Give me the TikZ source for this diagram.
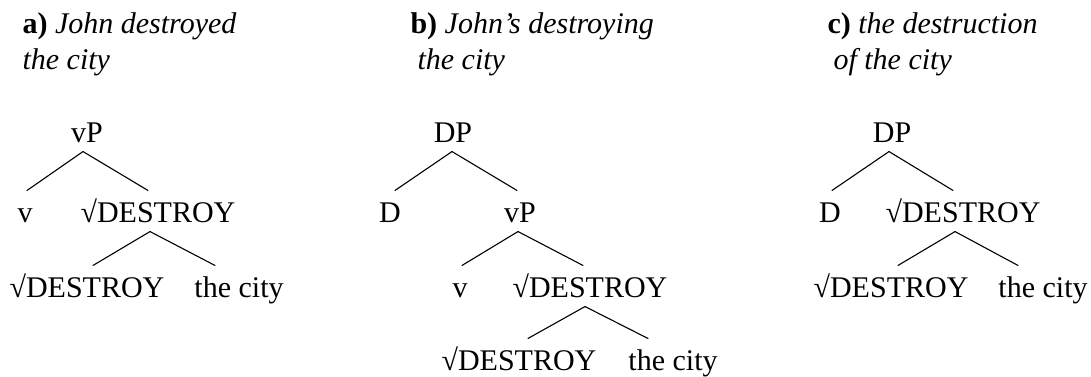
\documentclass[tikz,border=0pt]{standalone}
\usepackage{fontspec}
\setmainfont{Liberation Serif}
\tikzstyle{every node}=[font=\fontsize{30}{36}\selectfont]
\tikzstyle{every path}=[line width=1.1pt,line cap=round,line join=round]
\tikzstyle{cat}=[anchor=base,inner xsep=0pt,inner ysep=9pt,text height=22pt,text depth=0pt]
\tikzstyle{title}=[anchor=base west,inner sep=0pt]

\begin{document}
\begin{tikzpicture}[x=1pt,y=-1pt]
	\useasboundingbox (0,0) rectangle (1091,376);
	\newcommand\rootw{\char"221A DESTROY} %root label
% a) John destroyed the city
	\node[title] (aT1) at (22,33) {\textbf{a)} \textit{John destroyed}};
	\node[title] (aT2) at (22,69) {\textit{the city}};
	\node[cat] (aVP) at (87,142) {vP};
	\node[cat] (aV) at (25,222) {v};
	\node[cat] (aRoot) at (158,222) {\rootw};
	\node[cat] (aRootLo) at (87,297) {\rootw};
	\node[cat] (aCity) at (239,297) {the city};
	\draw ([xshift=-4pt]aVP.south) -- ([xshift=2pt]aV.north);
	\draw ([xshift=-4pt]aVP.south) -- ([xshift=-10pt]aRoot.north);
	\draw ([xshift=-8pt]aRoot.south) -- ([xshift=6pt]aRootLo.north);
	\draw ([xshift=-8pt]aRoot.south) -- ([xshift=-24pt]aCity.north);
% b) John's destroying the city
	\node[title] (bT1) at (410,33) {\textbf{b)} \textit{John’s destroying}};
	\node[title] (bT2) at (417,69) {\textit{the city}};
	\node[cat] (bDP) at (453,142) {DP};
	\node[cat] (bD) at (390,222) {D};
	\node[cat] (bVP) at (520,222) {vP};
	\node[cat] (bV) at (460,297) {v};
	\node[cat] (bRoot) at (590,297) {\rootw};
	\node[cat] (bRootLo) at (519,370) {\rootw};
	\node[cat] (bCity) at (673,370) {the city};
	\draw ([xshift=-1pt]bDP.south) -- ([xshift=5pt]bD.north);
	\draw ([xshift=-1pt]bDP.south) -- ([xshift=-3pt]bVP.north);
	\draw ([xshift=-2pt]bVP.south) -- ([xshift=2pt]bV.north);
	\draw ([xshift=-2pt]bVP.south) -- ([xshift=-7pt]bRoot.north);
	\draw ([xshift=-5pt]bRoot.south) -- ([xshift=9pt]bRootLo.north);
	\draw ([xshift=-5pt]bRoot.south) -- ([xshift=-25pt]bCity.north);
% c) the destruction of the city
	\node[title] (cT1) at (827,33) {\textbf{c)} \textit{the destruction}};
	\node[title] (cT2) at (833,69) {\textit{of the city}};
	\node[cat] (cDP) at (892,142) {DP};
	\node[cat] (cD) at (830,222) {D};
	\node[cat] (cRoot) at (963,222) {\rootw};
	\node[cat] (cRootLo) at (891,297) {\rootw};
	\node[cat] (cCity) at (1043,297) {the city};
	\draw ([xshift=-3pt]cDP.south) -- ([xshift=2pt]cD.north);
	\draw ([xshift=-3pt]cDP.south) -- ([xshift=-10pt]cRoot.north);
	\draw ([xshift=-8pt]cRoot.south) -- ([xshift=7pt]cRootLo.north);
	\draw ([xshift=-8pt]cRoot.south) -- ([xshift=-25pt]cCity.north);
\end{tikzpicture}
\end{document}
